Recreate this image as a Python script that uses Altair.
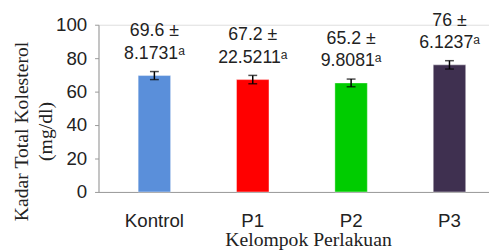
import altair as alt
import pandas as pd

groups = ["Kontrol", "P1", "P2", "P3"]
means = [69.6, 67.2, 65.2, 76.0]
errs = [2.4, 2.5, 2.3, 2.5]
line1 = ["69.6 ±", "67.2 ±", "65.2 ±", "76 ±"]
line2 = ["8.1731ᵃ", "22.5211ᵃ", "9.8081ᵃ", "6.1237ᵃ"]
colors = ["#5A8FDA", "#FF0000", "#00CC00", "#3F3050"]
yticks = [0, 20, 40, 60, 80, 100]

df = pd.DataFrame({
    "group": groups,
    "mean": means,
    "lo": [m - e for m, e in zip(means, errs)],
    "hi": [m + e for m, e in zip(means, errs)],
    "l1": line1,
    "l2": line2,
})

xscale = alt.Scale(domain=groups, paddingInner=0.67, paddingOuter=0.32, align=0.63)
yscale = alt.Scale(domain=[0, 100])

xaxis = alt.Axis(title="Kelompok Perlakuan", labelAngle=0, ticks=False,
                 labelPadding=20, labelFontSize=19, labelFont="Liberation Sans",
                 labelColor="#222", titleFont="Liberation Serif", titleFontSize=20,
                 titleFontWeight="normal", titleColor="#222", titlePadding=-1,
                 titleX=213, domainColor="#999")
yaxis = alt.Axis(title=["Kadar Total Kolesterol", "(mg/dl)"], values=yticks,
                 grid=False, tickSize=4, tickColor="#999", domainColor="#999",
                 labelOverlap=False, labelFlush=False, labelBound=False, labelSeparation=0,
                 labelFontSize=19, labelFont="Liberation Sans", labelColor="#222",
                 labelPadding=8, titleFont="Liberation Serif", titleFontSize=20,
                 titleFontWeight="normal", titleColor="#222", titleLineHeight=24,
                 titleX=-88, titleY=108, titleBaseline="top")

xenc = alt.X("group:N", scale=xscale, sort=groups, axis=xaxis)

def yenc(field):
    return alt.Y(field, scale=yscale, axis=yaxis)

base = alt.Chart(df)

bars = base.mark_bar(stroke="white", strokeOpacity=0.4, strokeWidth=1).encode(
    x=xenc,
    y=yenc("mean:Q"),
    color=alt.Color("group:N", scale=alt.Scale(domain=groups, range=colors), legend=None),
)

rules = base.mark_rule(color="black", strokeWidth=1.5).encode(x=xenc, y=yenc("lo:Q"), y2="hi:Q")
cap_lo = base.mark_tick(color="black", thickness=1.5, size=9).encode(x=xenc, y=yenc("lo:Q"))
cap_hi = base.mark_tick(color="black", thickness=1.5, size=9).encode(x=xenc, y=yenc("hi:Q"))

lab2 = base.mark_text(baseline="middle", dy=-22, fontSize=18, font="Liberation Sans",
                      color="#222").encode(x=xenc, y=yenc("mean:Q"), text="l2:N")
lab1 = base.mark_text(baseline="middle", dy=-45, fontSize=18, font="Liberation Sans",
                      color="#222").encode(x=xenc, y=yenc("mean:Q"), text="l1:N")

chart = alt.layer(bars, rules, cap_lo, cap_hi, lab2, lab1).properties(
    width=397, height=170,
    autosize=alt.AutoSizeParams(type="none"),
    padding={"left": 92, "top": 15, "right": 0, "bottom": 57},
).configure_view(stroke=None).configure_axisY(
    labelOverlap=False, labelBound=False, tickCount=6
).configure(background="white")

chart.save("out.html", embed_options={"renderer": "svg", "actions": False})
